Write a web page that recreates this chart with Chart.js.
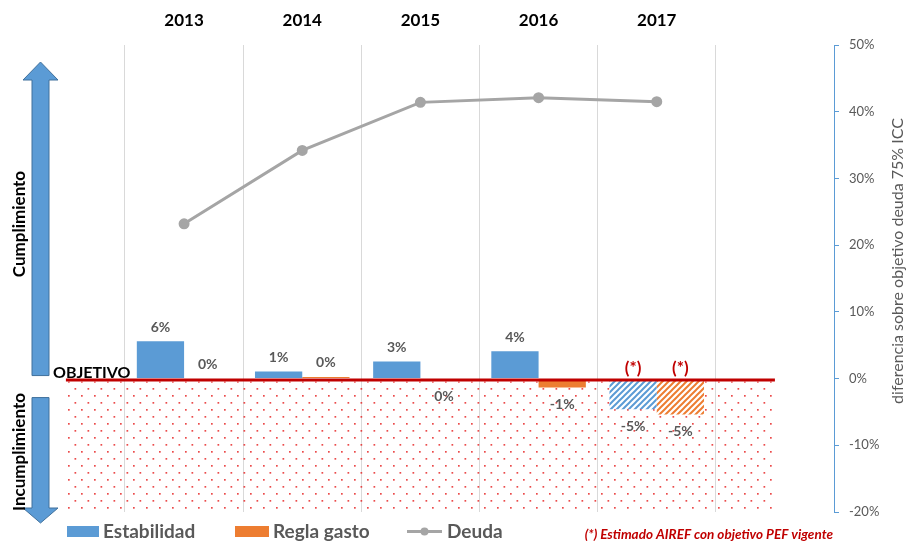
<!DOCTYPE html>
<html>
<head>
<meta charset="utf-8">
<script src="https://cdn.jsdelivr.net/npm/chart.js@4.4.1/dist/chart.umd.min.js"></script>
<style>
  html, body { margin: 0; padding: 0; background: #ffffff; }
  #wrap { width: 907px; height: 543px; position: relative; }
</style>
</head>
<body>
<div id="wrap"><canvas id="c" width="907" height="543"></canvas></div>
<script>
// ---- Data (percent units) ----
const categories = ['2013', '2014', '2015', '2016', '2017', ''];
const estabilidad = [5.6, 1.05, 2.55, 4.1, -4.6, null];
const reglaGasto = [0, 0.25, -0.1, -1.35, -5.4, null];
const deuda = [23.2, 34.2, 41.4, 42.1, 41.5, null];
const estimado = [false, false, false, false, true, false];
const yTicks = { min: -20, max: 50, step: 10 };

const BLUE = '#5b9bd5', ORANGE = '#ed7d31', GRAY = '#a5a5a5', TXT = '#595959', RED = '#c00000';
const FONT = 'Lato, "Open Sans", sans-serif';

function makeHatch(color) {
  const s = 6, c = document.createElement('canvas');
  c.width = s; c.height = s;
  const g = c.getContext('2d');
  g.fillStyle = '#ffffff'; g.fillRect(0, 0, s, s);
  g.strokeStyle = color; g.lineWidth = 2; g.lineCap = 'square';
  g.beginPath();
  g.moveTo(0, s); g.lineTo(s, 0);
  g.moveTo(-1, 1); g.lineTo(1, -1);
  g.moveTo(s - 1, s + 1); g.lineTo(s + 1, s - 1);
  g.stroke();
  return g.createPattern(c, 'repeat');
}
function makeDots() {
  const c = document.createElement('canvas');
  c.width = 13; c.height = 14;
  const g = c.getContext('2d');
  g.fillStyle = 'rgba(230,30,30,0.8)';
  g.fillRect(3, 3, 1.7, 1.7);
  g.fillRect(9.5, 10, 1.7, 1.7);
  return g.createPattern(c, 'repeat');
}
const dotPattern = makeDots();
const blueHatch = makeHatch(BLUE), orangeHatch = makeHatch(ORANGE);

const decor = {
  id: 'decor',
  beforeDatasetsDraw(chart) {
    const { ctx, chartArea, scales: { x, y } } = chart;
    const step = x.getPixelForValue(1) - x.getPixelForValue(0);
    const left = x.getPixelForValue(0) - step;
    const right = x.getPixelForValue(categories.length - 1);
    const y0 = y.getPixelForValue(0);
    ctx.save();
    ctx.fillStyle = dotPattern;
    ctx.fillRect(left, y0 + 3, right - left, chartArea.bottom - y0 - 3);
    ctx.restore();
  },
  afterDatasetsDraw(chart) {
    const { ctx, scales: { x, y } } = chart;
    const step = x.getPixelForValue(1) - x.getPixelForValue(0);
    const left = x.getPixelForValue(0) - step;
    const right = x.getPixelForValue(categories.length - 1);
    const y0 = y.getPixelForValue(0);
    ctx.save();
    // objective line
    ctx.strokeStyle = RED; ctx.lineWidth = 3;
    ctx.beginPath(); ctx.moveTo(left, y0 + 1.5); ctx.lineTo(right, y0 + 1.5); ctx.stroke();
    // bar value labels
    ctx.font = 'bold 14px ' + FONT; ctx.fillStyle = TXT;
    ctx.textAlign = 'center'; ctx.textBaseline = 'middle';
    [0, 1].forEach(di => {
      const ds = chart.data.datasets[di];
      chart.getDatasetMeta(di).data.forEach((el, i) => {
        const v = ds.data[i];
        if (v === null || v === undefined) return;
        const t = Math.round(v) + '%';
        const ty = v >= 0 ? el.y - 14 : el.y + 17;
        ctx.fillText(t, el.x, ty);
        if (estimado[i]) {
          ctx.save();
          ctx.font = 'bold 17px ' + FONT; ctx.fillStyle = RED;
          ctx.fillText('(*)', el.x, y0 - 10);
          ctx.restore();
        }
      });
    });
    ctx.restore();
  },
  afterDraw(chart) {
    const { ctx, scales: { y } } = chart;
    const y0 = y.getPixelForValue(0);
    ctx.save();
    // arrows
    ctx.fillStyle = BLUE; ctx.strokeStyle = '#41719c'; ctx.lineWidth = 1;
    const cx = 40.5, hw = 17.5, sw = 8.5;
    ctx.beginPath();
    ctx.moveTo(cx, 62); ctx.lineTo(cx + hw, 80); ctx.lineTo(cx + sw, 80); ctx.lineTo(cx + sw, y0 - 3);
    ctx.lineTo(cx - sw, y0 - 3); ctx.lineTo(cx - sw, 80); ctx.lineTo(cx - hw, 80); ctx.closePath();
    ctx.fill(); ctx.stroke();
    ctx.beginPath();
    ctx.moveTo(cx - sw, y0 + 19); ctx.lineTo(cx + sw, y0 + 19); ctx.lineTo(cx + sw, 508); ctx.lineTo(cx + hw, 508);
    ctx.lineTo(cx, 523); ctx.lineTo(cx - hw, 508); ctx.lineTo(cx - sw, 508); ctx.closePath();
    ctx.fill(); ctx.stroke();
    // vertical texts
    ctx.fillStyle = '#000'; ctx.font = 'bold 17px ' + FONT;
    ctx.textAlign = 'center'; ctx.textBaseline = 'middle';
    ctx.save(); ctx.translate(20, 224); ctx.rotate(-Math.PI / 2); ctx.fillText('Cumplimiento', 0, 0); ctx.restore();
    ctx.save(); ctx.translate(20, 452); ctx.rotate(-Math.PI / 2); ctx.fillText('Incumplimiento', 0, 0); ctx.restore();
    // OBJETIVO
    ctx.font = 'bold 16px ' + FONT;
    ctx.textAlign = 'left'; ctx.textBaseline = 'alphabetic';
    ctx.fillText('OBJETIVO', 53, y0 - 1);
    // right axis title
    ctx.fillStyle = TXT; ctx.font = '16px ' + FONT; ctx.textAlign = 'center'; ctx.textBaseline = 'middle';
    ctx.save(); ctx.translate(898, 261); ctx.rotate(-Math.PI / 2);
    ctx.fillText('diferencia sobre objetivo deuda 75% ICC', 0, 0); ctx.restore();
    // legend
    const ly = 531.5;
    ctx.font = 'bold 19px ' + FONT; ctx.textAlign = 'left'; ctx.textBaseline = 'middle';
    const dsets = chart.data.datasets;
    ctx.fillStyle = BLUE; ctx.fillRect(67, 526, 32, 11);
    ctx.fillStyle = TXT; ctx.fillText(dsets[0].label, 103, ly);
    ctx.fillStyle = ORANGE; ctx.fillRect(235, 526, 34, 11);
    ctx.fillStyle = TXT; ctx.fillText(dsets[1].label, 273, ly);
    ctx.strokeStyle = GRAY; ctx.lineWidth = 3;
    ctx.beginPath(); ctx.moveTo(407, ly); ctx.lineTo(442, ly); ctx.stroke();
    ctx.fillStyle = GRAY; ctx.beginPath(); ctx.arc(424.5, ly, 4, 0, Math.PI * 2); ctx.fill();
    ctx.fillStyle = TXT; ctx.fillText(dsets[2].label, 447, ly);
    // footnote
    ctx.font = 'italic bold 13.5px ' + FONT; ctx.fillStyle = RED; ctx.textAlign = 'right';
    ctx.fillText('(*) Estimado AIREF con objetivo PEF vigente', 833, 535);
    ctx.restore();
  }
};

new Chart(document.getElementById('c'), {
  type: 'bar',
  data: {
    labels: categories,
    datasets: [
      { label: 'Estabilidad', data: estabilidad, backgroundColor: estimado.map(e => e ? blueHatch : BLUE),
        categoryPercentage: 0.8, barPercentage: 1.0, order: 1 },
      { label: 'Regla gasto', data: reglaGasto, backgroundColor: estimado.map(e => e ? orangeHatch : ORANGE),
        categoryPercentage: 0.8, barPercentage: 1.0, order: 1 },
      { type: 'line', label: 'Deuda', data: deuda, borderColor: GRAY, backgroundColor: GRAY, borderWidth: 3,
        pointRadius: 4, pointBackgroundColor: GRAY, pointBorderColor: GRAY, tension: 0, spanGaps: false, order: 0 }
    ]
  },
  options: {
    responsive: false,
    animation: false,
    layout: { padding: { left: 125, right: 0, top: 0, bottom: 31 } },
    plugins: { legend: { display: false }, tooltip: { enabled: false } },
    scales: {
      x: {
        position: 'top', offset: true,
        grid: { offset: true, color: '#d9d9d9', drawTicks: false, lineWidth: 1 },
        border: { display: false },
        ticks: { color: '#000', font: { family: FONT, weight: 'bold', size: 17 }, padding: 14 },
        afterFit(s) { s.height = 45; }
      },
      y: {
        position: 'right', min: yTicks.min, max: yTicks.max,
        ticks: { stepSize: yTicks.step, callback: v => v + '%', color: TXT, font: { family: FONT, size: 13 }, padding: 10 },
        grid: { drawOnChartArea: false, color: BLUE, tickLength: 5 },
        border: { color: BLUE },
        afterFit(s) { s.width = 73; }
      }
    }
  },
  plugins: [decor]
});
</script>
</body>
</html>
